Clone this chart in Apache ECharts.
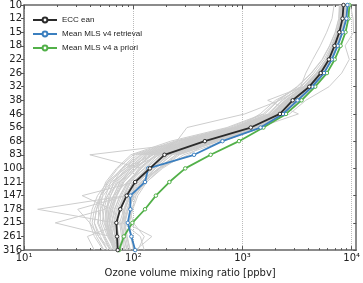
<!DOCTYPE html>
<html lang="en">

<head>
  <meta charset="UTF-8">
  <script src="https://cdnjs.cloudflare.com/ajax/libs/echarts/6.0.0/echarts.min.js"></script>
  <title>Ozone profiles</title>
  <style>
    html,
    body {
      padding: 0;
      margin: 0;
      background: #fff;
    }

    main {
      width: 363px;
      height: 283px;
    }
  </style>
</head>

<body>
  <main></main>
</body>
<script>
  // pressure levels (hPa), top to bottom
  const levels = ['10', '12', '15', '18', '22', '26', '32', '38', '46', '56', '68', '83', '100', '121', '147', '178', '215', '261', '316']

  const eccMean = [8410, 8240, 7700, 6950, 6180, 5200, 4090, 2880, 2200, 1190, 452, 193, 142, 104, 87, 76, 70, 71, 72]
  const mlsRetrieval = [9140, 8950, 8240, 7430, 6570, 5570, 4350, 3190, 2345, 1462, 655, 360, 137, 128, 94, 94, 89, 96, 104]
  const mlsApriori = [9520, 9330, 8770, 7910, 6990, 5930, 4630, 3470, 2500, 1553, 929, 511, 299, 214, 161, 128, 98, 82, 74]

  // individual sonde profiles (grey)
  const sondeProfiles = [
    [8500, 8400, 7900, 7100, 6350, 5350, 4250, 3050, 2300, 1290, 510, 215, 152, 112, 94, 82, 75, 78, 82],
    [8100, 7950, 7500, 6750, 6000, 5000, 3900, 2700, 2050, 1070, 400, 170, 125, 95, 82, 72, 67, 69, 74],
    [8800, 8750, 8200, 7350, 6600, 5600, 4500, 3300, 2550, 1500, 660, 290, 185, 132, 104, 89, 82, 85, 90],
    [7900, 7800, 7300, 6600, 5800, 4800, 3700, 2500, 1850, 910, 310, 135, 100, 78, 68, 62, 58, 61, 66],
    [8300, 8200, 7650, 6900, 6150, 5150, 4050, 2850, 2200, 1180, 450, 40, 118, 94, 83, 75, 70, 74, 78],
    [8450, 8300, 7800, 7000, 6250, 5250, 4150, 2950, 2300, 1230, 480, 205, 136, 100, 86, 13.3, 68, 72, 76],
    [8200, 8100, 7550, 6900, 6150, 5150, 3950, 2750, 2100, 1070, 430, 180, 128, 88, 66, 55, 19.3, 62, 78],
    [8650, 8550, 8000, 7100, 6250, 5050, 3600, 2200, 1050, 310, 250, 160, 112, 92, 81, 74, 70, 72, 76],
    [6900, 6600, 5900, 5150, 4400, 3800, 3400, 2000, 1450, 900, 370, 160, 117, 90, 78, 70, 66, 68, 72],
    [9700, 10300, 10400, 8700, 9500, 8100, 6200, 3800, 2700, 1350, 540, 225, 160, 120, 98, 87, 80, 82, 87],
    [8000, 7900, 7450, 6700, 5900, 4900, 3600, 1700, 3250, 1400, 560, 245, 170, 122, 100, 89, 83, 87, 93],
    [8400, 8300, 7800, 7050, 6300, 5350, 4200, 3000, 2250, 1130, 385, 150, 106, 74, 58, 50, 47, 53, 61],
    [8300, 8150, 7600, 6850, 6100, 5100, 4000, 2800, 2150, 1020, 350, 128, 90, 66, 53, 46, 44, 50, 58],
    [8600, 8500, 7950, 7200, 6400, 5450, 4350, 3150, 2450, 1340, 560, 245, 170, 125, 106, 97, 91, 95, 100],
    [8150, 8050, 7500, 6750, 5950, 5000, 3850, 2650, 1980, 970, 320, 118, 80, 58, 47, 42, 40, 44, 53],
    [8500, 8400, 7850, 7100, 6300, 5300, 4200, 2950, 2300, 1270, 490, 208, 146, 106, 90, 82, 80, 116, 126],
    [8350, 8250, 7700, 6950, 6200, 5200, 4100, 2900, 2200, 1160, 440, 186, 138, 100, 84, 78, 86, 148, 105],
    [8450, 8350, 7800, 7050, 6250, 5250, 4150, 2950, 2250, 1200, 460, 197, 140, 104, 34, 63, 76, 82, 88],
    [8050, 7950, 7450, 6700, 5900, 4950, 3850, 2700, 2030, 1050, 395, 165, 119, 89, 76, 67, 63, 65, 69],
    [8700, 8650, 8100, 7300, 6500, 5550, 4450, 3250, 2520, 1450, 600, 255, 175, 127, 101, 90, 84, 88, 94],
    [8250, 8100, 7600, 6850, 6100, 5100, 4000, 2800, 2140, 1090, 415, 175, 95, 63, 50, 44, 42, 46, 54],
    [8400, 8300, 7750, 6950, 6200, 5200, 4100, 2850, 2200, 1140, 430, 179, 132, 99, 86, 31, 40, 48, 63],
    [8550, 8450, 7950, 7200, 6400, 5400, 4330, 3120, 2400, 1340, 530, 228, 158, 118, 99, 92, 100, 126, 110],
    [7950, 7850, 7400, 6650, 5850, 4900, 3800, 2580, 1920, 940, 330, 143, 108, 82, 71, 65, 61, 63, 67],
    [8450, 8400, 7850, 7150, 6350, 5350, 4280, 3070, 2350, 1290, 500, 320, 170, 116, 95, 84, 78, 80, 84],
    [8350, 8250, 7750, 7000, 6250, 5250, 4100, 2900, 2250, 1230, 490, 212, 150, 109, 92, 84, 80, 38, 44],
    [8150, 8050, 7550, 6800, 6000, 5050, 3900, 2700, 2020, 1020, 360, 153, 84, 60, 50, 46, 44, 48, 58],
    [8600, 8550, 8000, 7250, 6450, 5500, 4350, 3130, 2470, 1400, 600, 265, 180, 133, 110, 99, 92, 96, 102],
    [8000, 7850, 7300, 6500, 5600, 4500, 3400, 2300, 1700, 800, 260, 110, 80, 66, 60, 57, 56, 60, 66],
    [8250, 8150, 7600, 6800, 5950, 4800, 3600, 2450, 1800, 850, 280, 120, 88, 70, 62, 58, 57, 61, 70],
    [8600, 8500, 7900, 7050, 6150, 5000, 3750, 2550, 1900, 950, 300, 140, 95, 75, 66, 60, 58, 62, 72],
    [7800, 7650, 7100, 6300, 5400, 4300, 3200, 2150, 1600, 760, 240, 100, 72, 58, 52, 50, 50, 55, 64],
    [8350, 8250, 7700, 6900, 6050, 4950, 3700, 2500, 1850, 880, 270, 115, 85, 68, 58, 54, 52, 58, 68],
    [8500, 8400, 7850, 7000, 6200, 5100, 3900, 2650, 1950, 960, 330, 150, 100, 80, 70, 64, 60, 64, 74],
    [8100, 8000, 7500, 6750, 5850, 4700, 3450, 2350, 1750, 820, 250, 105, 78, 62, 56, 52, 54, 60, 70],
    [8700, 8600, 8050, 7250, 6350, 5250, 4000, 2750, 2050, 1050, 360, 160, 115, 88, 75, 68, 64, 68, 78],
    [8200, 8100, 7550, 6800, 5900, 4850, 3650, 2480, 1830, 870, 290, 125, 92, 72, 62, 56, 55, 59, 68],
    [8450, 8350, 7800, 7000, 6100, 5000, 3800, 2600, 1900, 920, 310, 132, 96, 76, 66, 60, 58, 63, 72],
    [7700, 7600, 7050, 6250, 5350, 4250, 3150, 2100, 1550, 720, 220, 95, 70, 56, 50, 48, 48, 54, 62],
    [8550, 8450, 7900, 7100, 6250, 5150, 3950, 2700, 2000, 1000, 350, 145, 105, 82, 70, 62, 60, 66, 76]
  ]

  const majorTicks = [10, 100, 1000, 10000]
  const minorTicks = [20, 30, 40, 50, 60, 70, 80, 90, 200, 300, 400, 500, 600, 700, 800, 900, 2000, 3000, 4000, 5000, 6000, 7000, 8000, 9000]
  const sup = { 10: '10¹', 100: '10²', 1000: '10³', 10000: '10⁴' }

  const frame = { color: '#666', width: 1.5 }
  const font = 'DejaVu Sans'

  function logAxis(position, ticks, len, extra) {
    return Object.assign({
      type: 'log',
      logBase: 10,
      min: 10,
      max: 11000,
      position: position,
      axisLine: { show: false },
      axisTick: { show: true, inside: true, length: len, customValues: ticks, lineStyle: { color: '#555' } },
      axisLabel: { show: false },
      splitLine: { show: false }
    }, extra || {})
  }

  function pair(vals) {
    return vals.map((v, i) => [v, levels[i]])
  }

  const greySeries = sondeProfiles.map((p, i) => ({
    type: 'line',
    name: 'sonde' + i,
    data: pair(p),
    symbol: 'none',
    silent: true,
    z: 1,
    lineStyle: { color: '#cdcdcd', width: 1 }
  }))

  function meanSeries(name, vals, color, z) {
    return {
      type: 'line',
      name: name,
      data: pair(vals),
      symbol: 'circle',
      symbolSize: 3.5,
      z: z,
      lineStyle: { color: color, width: 1.8 },
      itemStyle: { color: '#fff', borderColor: color, borderWidth: 1 }
    }
  }

  const option = {
    animation: false,
    grid: { left: 18, right: 5, top: 3, bottom: 25 },
    legend: {
      data: ['ECC ean', 'Mean MLS v4 retrieval', 'Mean MLS v4 a priori'],
      orient: 'vertical',
      left: 27,
      top: 11,
      itemWidth: 24,
      itemHeight: 6,
      itemGap: 6,
      textStyle: { fontSize: 8, fontFamily: 'Liberation Sans', color: '#222' }
    },
    xAxis: [
      {
        type: 'log',
        logBase: 10,
        min: 10,
        max: 11000,
        position: 'bottom',
        name: 'Ozone volume mixing ratio [ppbv]',
        nameLocation: 'middle',
        nameGap: 15,
        nameTextStyle: { fontSize: 10, fontFamily: font, color: '#222' },
        axisLine: { show: true, lineStyle: frame },
        axisTick: { show: true, inside: true, length: 4, customValues: majorTicks, lineStyle: { color: '#555' } },
        axisLabel: {
          margin: 3,
          fontSize: 10,
          fontFamily: font,
          color: '#222',
          formatter: (v) => sup[Math.round(v)] || ''
        },
        splitLine: { show: true, lineStyle: { type: 'dotted', color: '#bbb' } }
      },
      logAxis('bottom', minorTicks, 2),
      logAxis('top', majorTicks, 4, { axisLine: { show: true, lineStyle: frame } }),
      logAxis('top', minorTicks, 2)
    ],
    yAxis: [
      {
        type: 'category',
        data: levels,
        inverse: true,
        boundaryGap: false,
        axisLine: { show: true, lineStyle: frame },
        axisTick: { show: true, inside: false, length: 3, lineStyle: { color: '#555' } },
        axisLabel: { margin: 2, fontSize: 10, fontFamily: font, color: '#222' },
        splitLine: { show: false }
      },
      {
        type: 'category',
        data: levels,
        inverse: true,
        boundaryGap: false,
        position: 'right',
        axisLine: { show: true, lineStyle: frame },
        axisTick: { show: true, inside: true, length: 3, lineStyle: { color: '#555' } },
        axisLabel: { show: false },
        splitLine: { show: false }
      }
    ],
    series: [
      ...greySeries,
      meanSeries('ECC ean', eccMean, '#2b2b2b', 5),
      meanSeries('Mean MLS v4 retrieval', mlsRetrieval, '#3b7fbf', 4),
      meanSeries('Mean MLS v4 a priori', mlsApriori, '#52b049', 3)
    ]
  }

  const ins = echarts.init(document.getElementsByTagName('main')[0])
  ins.setOption(option)
</script>

</html>
